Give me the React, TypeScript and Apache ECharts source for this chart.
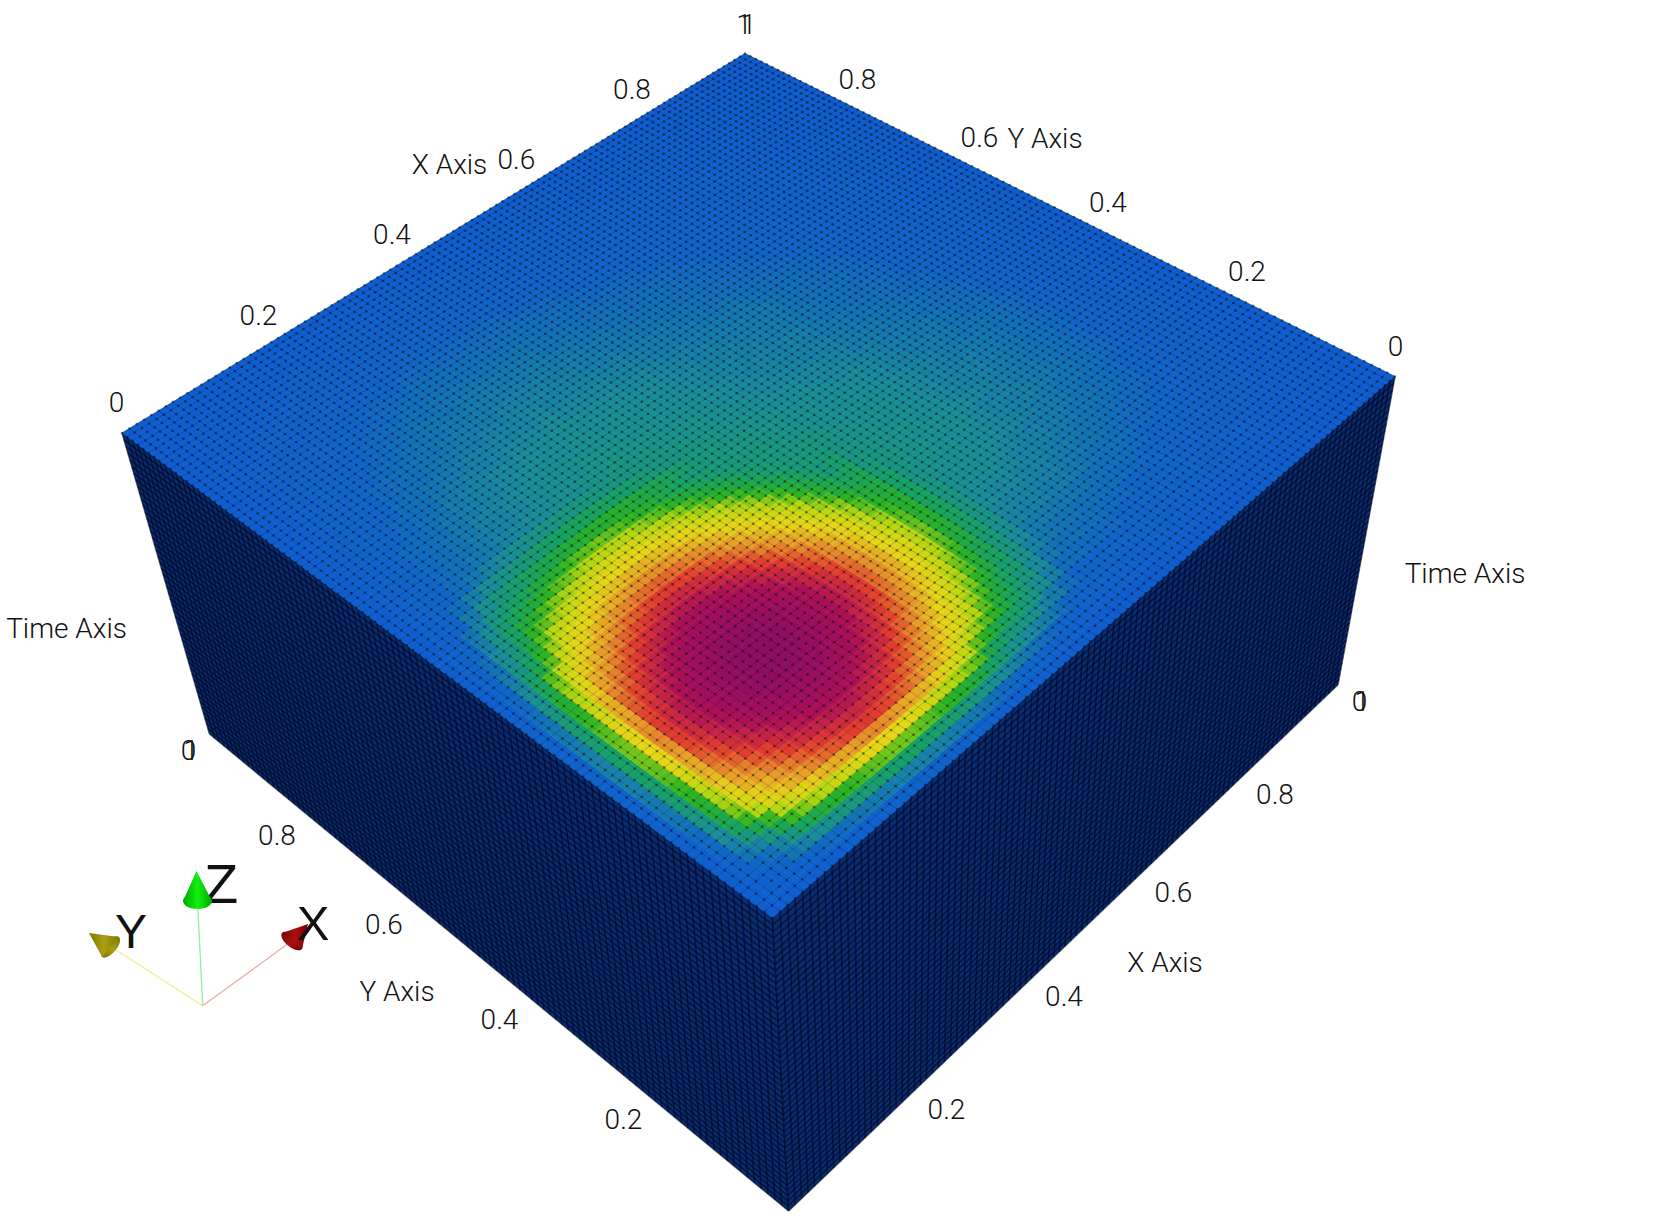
import React, { useEffect, useRef } from "react";
import * as echarts from "echarts";

// ---------- data ----------
const tickLabels = ["0", "0.2", "0.4", "0.6", "0.8", "1"];
const axisTitles = ["X Axis", "Y Axis", "Time Axis"];
const triadLabels = ["X", "Y", "Z"];
const colorStops = ["#0f5dd0", "#1066c8", "#1a8c9c", "#17a266", "#2cb424", "#b4d812", "#e6d618", "#e89a2a", "#e23c30", "#ad1058", "#8c0c62"];

// Colour field near the hot spot: X and Y from 0 to 0.48, in steps of 0.015.
const hotSpotValues = [
[0,1,1,2,2,3,3,4,4,4,5,5,5,6,6,6,6,6,5,5,5,4,4,4,3,3,3,3,2,2,2,1],
[1,2,3,5,7,9,11,11,13,14,15,15,16,17,17,17,17,17,16,15,15,14,13,11,11,10,9,8,7,6,5,4],
[1,3,6,10,14,17,20,22,24,25,27,28,28,29,29,30,29,29,28,28,27,25,24,22,20,18,16,14,13,11,10,8],
[2,5,10,13,18,25,31,34,37,38,40,41,43,44,45,45,45,44,43,41,40,38,37,34,31,28,24,22,20,18,16,14],
[2,7,14,18,25,33,41,46,49,50,53,55,57,59,60,60,60,59,57,55,53,50,49,46,43,34,30,27,25,24,22,18],
[3,10,17,25,33,41,50,55,58,62,65,67,68,70,71,72,71,70,68,67,65,62,58,56,52,44,40,35,31,30,27,25],
[3,11,20,31,41,50,57,62,66,69,72,75,77,79,80,81,80,79,77,75,72,69,66,62,57,53,48,43,40,35,31,27],
[4,11,22,34,46,56,62,66,70,73,76,79,81,83,84,85,84,83,81,79,76,73,70,66,62,59,55,50,44,38,34,30],
[4,13,24,37,49,58,66,70,73,77,80,83,85,86,88,88,88,86,85,83,80,77,73,70,66,61,58,54,48,42,36,32],
[4,14,25,38,50,62,69,73,77,80,84,86,88,90,91,92,91,90,88,86,84,80,77,73,69,65,60,56,52,46,40,35],
[5,15,27,40,53,65,72,76,80,84,86,89,91,93,94,94,94,93,91,89,86,84,80,76,72,68,63,59,55,49,43,37],
[5,15,28,41,55,67,75,79,83,86,89,92,94,95,96,96,96,95,94,92,89,86,83,79,75,71,66,61,57,51,45,39],
[5,16,28,43,57,68,77,81,85,88,91,94,95,97,97,98,97,97,95,94,91,88,85,81,77,72,68,63,58,54,48,41],
[6,17,29,44,59,70,79,83,86,90,93,95,97,98,99,99,99,98,97,95,93,90,86,83,79,74,70,64,60,55,50,43],
[6,17,29,45,60,71,80,84,88,91,94,96,97,99,100,100,100,99,97,96,94,91,88,84,80,75,71,66,60,56,51,44],
[6,17,30,45,60,72,81,85,88,92,94,96,98,99,100,100,100,99,98,96,94,92,88,85,81,76,71,66,61,57,51,45],
[6,17,29,45,60,71,80,84,88,91,94,96,97,99,100,100,100,99,97,96,94,91,88,84,80,75,71,66,60,56,51,44],
[6,17,29,44,59,70,79,83,86,90,93,95,97,98,99,99,99,98,97,95,93,90,86,83,79,74,70,64,60,55,50,43],
[5,16,28,43,57,68,77,81,85,88,91,94,95,97,97,98,97,97,95,94,91,88,85,81,77,72,68,63,58,54,48,41],
[5,15,28,41,55,67,75,79,83,86,89,92,94,95,96,96,96,95,94,92,89,86,83,79,75,71,66,61,57,51,45,39],
[5,15,27,40,53,65,72,76,80,84,86,89,91,93,94,94,94,93,91,89,86,84,80,76,72,68,63,59,55,49,43,37],
[4,14,25,38,50,62,69,73,77,80,84,86,88,90,91,92,91,90,88,86,84,80,77,73,69,65,60,56,52,46,40,35],
[4,13,24,37,49,58,66,70,73,77,80,83,85,86,88,88,88,86,85,83,80,77,73,70,66,61,58,54,48,42,36,32],
[4,11,22,34,46,56,62,66,70,73,76,79,81,83,84,85,84,83,81,79,76,73,70,66,62,59,55,50,44,38,34,30],
[3,11,20,31,43,52,57,62,66,69,72,75,77,79,80,81,80,79,77,75,72,69,66,62,59,55,51,46,40,35,31,27],
[3,10,18,28,34,44,53,59,61,65,68,71,72,74,75,76,75,74,72,71,68,65,61,59,55,51,47,41,36,32,28,26],
[3,9,16,24,30,40,48,55,58,60,63,66,68,70,71,71,71,70,68,66,63,60,58,55,51,47,41,36,33,29,26,26],
[3,8,14,22,27,35,43,50,54,56,59,61,63,64,66,66,66,64,63,61,59,56,54,50,46,41,36,33,29,27,26,25],
[2,7,13,20,25,31,40,44,48,52,55,57,58,60,60,61,60,60,58,57,55,52,48,44,40,36,33,29,27,26,25,25],
[2,6,11,18,24,30,35,38,42,46,49,51,54,55,56,57,56,55,54,51,49,46,42,38,35,32,29,27,26,26,25,24],
[2,5,10,16,22,27,31,34,36,40,43,45,48,50,51,51,51,50,48,45,43,40,36,34,31,28,26,26,25,25,24,24],
[1,4,8,14,18,24,27,30,32,35,37,39,41,43,44,45,44,43,41,39,37,35,32,30,27,26,26,25,25,24,24,23],
];

// Colour field beside the hot spot: Y from 0 to 0.48 in steps of 0.02, X from 0.48 to 1 in steps of 0.02.
const beyondHotSpotX = [
[1,1,1,1,1,1,1,1,1,1,1,1,1,1,1,1,1,1,0,0,0,0,0,0,0,0],
[5,5,5,5,5,4,4,4,4,4,4,3,3,3,3,3,2,2,2,2,1,1,1,1,0,0],
[10,8,8,8,7,7,7,7,6,6,6,5,5,5,5,4,4,4,3,3,2,2,2,1,1,0],
[16,12,10,10,10,9,9,9,8,8,7,7,7,6,6,6,5,5,4,4,3,3,2,2,1,1],
[22,17,12,12,11,11,11,10,10,9,9,9,8,8,7,7,6,6,5,4,4,3,2,2,1,1],
[26,20,15,13,13,12,12,11,11,10,10,9,9,8,8,7,7,6,5,5,4,3,3,2,1,1],
[28,23,18,15,14,14,13,13,12,12,11,11,10,9,9,8,8,7,6,5,5,4,3,2,2,1],
[31,25,20,16,16,15,15,14,13,13,12,12,11,10,10,9,9,8,7,6,5,4,3,3,2,1],
[33,27,22,18,17,17,16,16,15,14,13,13,12,11,11,10,9,8,7,7,6,5,4,3,2,1],
[35,29,23,19,18,18,17,17,16,15,14,14,13,12,11,11,10,9,8,7,6,5,4,3,2,1],
[37,30,24,20,19,19,18,18,17,16,15,14,14,13,12,11,11,9,8,7,6,5,4,3,2,1],
[38,31,25,21,20,20,19,18,17,17,16,15,14,14,13,12,11,10,9,8,7,6,4,3,2,1],
[38,31,25,22,21,21,20,19,18,17,16,16,15,14,13,12,11,10,9,8,7,6,5,3,2,1],
[38,31,25,22,22,21,21,20,19,18,17,16,15,14,14,13,12,11,9,8,7,6,5,4,2,1],
[37,30,24,23,22,22,21,20,19,18,17,17,16,15,14,13,12,11,10,8,7,6,5,4,2,1],
[35,29,24,23,23,22,21,21,19,18,17,17,16,15,14,13,12,11,10,9,7,6,5,4,2,1],
[33,27,24,24,23,22,22,21,20,19,18,17,16,15,14,13,12,11,10,9,7,6,5,4,2,1],
[31,25,24,23,23,22,21,21,19,18,17,17,16,15,14,13,12,11,10,9,7,6,5,4,2,1],
[28,24,24,23,22,22,21,20,19,18,17,17,16,15,14,13,12,11,10,9,7,6,5,4,2,1],
[26,24,23,23,22,22,21,20,19,18,17,16,16,15,14,13,12,11,10,8,7,6,5,4,2,1],
[25,24,23,22,22,21,21,20,19,18,17,16,15,14,14,13,12,11,9,8,7,6,5,4,2,1],
[24,23,22,22,21,21,20,19,18,17,16,16,15,14,13,12,12,10,9,8,7,6,5,3,2,1],
[23,22,22,21,21,20,20,19,18,17,16,15,15,14,13,12,11,10,9,8,7,6,4,3,2,1],
[23,22,21,21,20,19,19,18,17,16,15,15,14,13,12,12,11,10,9,8,6,5,4,3,2,1],
];

// Colour field behind the hot spot: Y from 0.48 to 1, X from 0 to 1, in steps of 0.02.
const beyondHotSpotY = [
[1,5,10,16,22,26,28,31,33,35,37,38,38,38,37,35,33,31,28,26,25,24,23,23,22,21,20,20,19,19,18,17,16,16,15,14,14,13,12,11,10,9,8,7,6,5,4,3,2,1],
[1,5,8,12,17,20,23,25,27,29,30,31,31,31,30,29,27,25,24,24,24,23,22,22,21,20,19,19,18,18,17,17,16,15,14,14,13,12,11,11,10,9,8,7,6,5,4,3,2,1],
[1,5,8,10,12,15,18,20,22,23,24,25,25,25,24,24,24,24,24,23,23,23,22,21,20,19,19,18,18,17,17,16,15,15,14,13,13,12,11,10,10,9,8,7,6,5,4,3,2,1],
[1,5,8,10,12,13,15,16,18,19,20,21,22,22,23,23,24,23,23,23,22,22,21,21,20,19,18,18,17,17,17,16,15,14,13,13,12,12,11,10,9,8,8,7,6,5,4,3,2,1],
[1,5,7,10,11,13,14,16,17,18,19,20,21,22,22,23,23,23,22,22,22,21,21,20,19,18,18,17,17,16,16,15,14,14,13,13,12,11,11,10,9,8,7,6,5,5,4,3,2,1],
[1,4,7,9,11,12,14,15,17,18,19,20,21,21,22,22,22,22,22,22,21,21,20,19,19,18,17,17,16,16,16,15,14,13,13,12,12,11,10,10,9,8,7,6,5,4,4,3,2,1],
[1,4,7,9,11,12,13,15,16,17,18,19,20,21,21,21,22,21,21,21,21,20,20,19,18,17,17,16,16,16,15,15,14,13,12,12,11,11,10,9,9,8,7,6,5,4,3,3,2,1],
[1,4,7,9,10,11,13,14,16,17,18,19,19,20,20,21,21,21,20,20,20,19,19,18,17,17,16,16,15,15,15,14,13,12,12,11,11,10,10,9,8,7,7,6,5,4,3,2,2,1],
[1,4,6,8,10,11,12,13,15,16,17,17,18,19,19,19,20,19,19,19,19,18,18,17,16,16,15,15,14,14,14,13,12,12,11,11,10,10,9,8,8,7,6,5,5,4,3,2,2,1],
[1,4,6,8,9,10,12,13,14,15,16,17,17,18,18,18,19,18,18,18,18,17,17,16,16,15,15,14,14,13,13,12,12,11,11,10,10,9,9,8,7,7,6,5,4,4,3,2,1,1],
[1,4,6,7,9,10,11,12,13,14,15,16,16,17,17,18,18,18,17,17,17,16,16,15,15,14,14,13,13,13,12,12,11,11,10,10,9,9,8,8,7,6,6,5,4,4,3,2,1,1],
[1,3,5,7,9,9,11,12,13,14,14,15,16,16,16,17,17,17,17,16,16,16,15,15,14,14,13,13,13,12,12,11,11,10,10,9,9,8,8,7,7,6,5,5,4,3,3,2,1,1],
[1,3,5,7,8,9,10,11,12,13,14,14,15,15,16,16,16,16,16,16,15,15,14,14,13,13,12,12,12,12,11,11,10,10,9,9,8,8,7,7,6,6,5,4,4,3,3,2,1,1],
[1,3,5,6,8,8,9,10,11,12,13,14,14,14,15,15,15,15,15,15,14,14,14,13,13,12,12,12,11,11,11,10,10,9,9,8,8,7,7,7,6,5,5,4,4,3,2,2,1,1],
[1,3,5,6,7,8,9,10,11,11,12,13,13,14,14,14,14,14,14,14,14,13,13,12,12,11,11,11,11,10,10,10,9,9,8,8,7,7,7,6,6,5,5,4,3,3,2,2,1,1],
[1,3,4,6,7,7,8,9,10,11,11,12,12,13,13,13,13,13,13,13,13,12,12,12,11,11,10,10,10,10,9,9,8,8,8,7,7,7,6,6,5,5,4,4,3,3,2,2,1,1],
[1,2,4,5,6,7,8,9,9,10,11,11,11,12,12,12,12,12,12,12,12,12,11,11,10,10,10,9,9,9,9,8,8,7,7,7,6,6,6,5,5,4,4,3,3,2,2,1,1,0],
[1,2,4,5,6,6,7,8,8,9,10,10,10,11,11,11,11,11,11,11,11,10,10,10,9,9,9,9,8,8,8,8,7,7,6,6,6,5,5,5,4,4,4,3,3,2,2,1,1,0],
[0,2,3,4,5,5,6,7,7,8,8,9,9,9,10,10,10,10,10,10,9,9,9,9,8,8,8,8,7,7,7,7,6,6,6,5,5,5,5,4,4,4,3,3,2,2,2,1,1,0],
[0,2,3,4,4,5,5,6,7,7,7,8,8,8,8,9,9,9,9,8,8,8,8,8,7,7,7,7,6,6,6,6,5,5,5,5,5,4,4,4,3,3,3,2,2,2,1,1,1,0],
[0,1,2,3,4,4,5,5,6,6,6,7,7,7,7,7,7,7,7,7,7,7,7,6,6,6,6,6,5,5,5,5,5,4,4,4,4,4,3,3,3,3,2,2,2,1,1,1,1,0],
[0,1,2,3,3,3,4,4,5,5,5,6,6,6,6,6,6,6,6,6,6,6,6,5,5,5,5,5,4,4,4,4,4,4,4,3,3,3,3,3,2,2,2,2,1,1,1,1,0,0],
[0,1,2,2,2,3,3,3,4,4,4,4,5,5,5,5,5,5,5,5,5,5,4,4,4,4,4,4,4,4,3,3,3,3,3,3,3,2,2,2,2,2,2,1,1,1,1,1,0,0],
[0,1,1,2,2,2,2,3,3,3,3,3,3,4,4,4,4,4,4,4,4,3,3,3,3,3,3,3,3,3,3,2,2,2,2,2,2,2,2,2,1,1,1,1,1,1,1,0,0,0],
[0,1,1,1,1,1,2,2,2,2,2,2,2,2,2,2,3,2,2,2,2,2,2,2,2,2,2,2,2,2,2,2,2,2,1,1,1,1,1,1,1,1,1,1,1,0,0,0,0,0],
[0,0,0,1,1,1,1,1,1,1,1,1,1,1,1,1,1,1,1,1,1,1,1,1,1,1,1,1,1,1,1,1,1,1,1,1,1,1,1,0,0,0,0,0,0,0,0,0,0,0],
];

// ---------- layout ----------
const W = 1672;
const H = 1216;
type P = [number, number];
const FRONT: P = [772.5, 918];
const RIGHT: P = [1395, 376.5];
const TOP: P = [745, 53.5];
const LEFT: P = [122, 433];
const BOTTOM: P = [788.6, 1211];
const LEFT_LOW: P = [209.5, 734];
const RIGHT_LOW: P = [1338, 684.6];

const MESH = 100;
const LAYERS = 50;
const FINE_STEP = 0.015;
const COARSE_STEP = 0.02;
const SEAM = 0.48;

function homography(p0: P, p1: P, p2: P, p3: P) {
  const dx1 = p1[0] - p2[0], dx2 = p3[0] - p2[0], sx = p0[0] - p1[0] + p2[0] - p3[0];
  const dy1 = p1[1] - p2[1], dy2 = p3[1] - p2[1], sy = p0[1] - p1[1] + p2[1] - p3[1];
  const den = dx1 * dy2 - dx2 * dy1;
  const g = (sx * dy2 - dx2 * sy) / den;
  const h = (dx1 * sy - sx * dy1) / den;
  const a = p1[0] - p0[0] + g * p1[0], b = p3[0] - p0[0] + h * p3[0], c = p0[0];
  const d = p1[1] - p0[1] + g * p1[1], e = p3[1] - p0[1] + h * p3[1], f = p0[1];
  return (u: number, v: number): P => {
    const w = g * u + h * v + 1;
    return [(a * u + b * v + c) / w, (d * u + e * v + f) / w];
  };
}

const faces = [
  { map: homography(LEFT, FRONT, BOTTOM, LEFT_LOW), nu: MESH, nv: LAYERS, fill: "#0a2c70", line: "rgba(0,6,30,0.62)", width: 1.5 },
  { map: homography(FRONT, RIGHT, RIGHT_LOW, BOTTOM), nu: MESH, nv: LAYERS, fill: "#0a2c70", line: "rgba(0,6,30,0.62)", width: 1.5 },
  { map: homography(FRONT, RIGHT, TOP, LEFT), nu: MESH, nv: MESH, fill: "none", line: "rgba(0,0,0,0.17)", width: 1 },
];

const labelSpots: [string, number, number][] = [
  [tickLabels[0], 116.5, 402], [tickLabels[1], 258.5, 315], [tickLabels[2], 392, 234], [tickLabels[3], 516.3, 159], [tickLabels[4], 632, 89.5], [tickLabels[5], 744, 24],
  [tickLabels[0], 1395.5, 346], [tickLabels[1], 1247, 271.5], [tickLabels[2], 1108, 202], [tickLabels[3], 979.5, 137.5], [tickLabels[4], 857.5, 79], [tickLabels[5], 748.5, 24],
  [tickLabels[0], 188.5, 750.5], [tickLabels[5], 191, 750.5], [tickLabels[4], 277, 835], [tickLabels[3], 384, 924], [tickLabels[2], 499.5, 1019], [tickLabels[1], 623.5, 1119.5],
  [tickLabels[0], 1359.5, 701.5], [tickLabels[5], 1362, 701.5], [tickLabels[4], 1275, 794.5], [tickLabels[3], 1173.5, 892], [tickLabels[2], 1064, 996.5], [tickLabels[1], 946.5, 1109.5],
  [axisTitles[0], 449.5, 164.5], [axisTitles[1], 1045, 138.5], [axisTitles[2], 1465, 573], [axisTitles[2], 66.5, 628.5], [axisTitles[1], 397, 991], [axisTitles[0], 1165, 962.5],
];

function cone(apex: P, c: P, rx: number, ry: number, rot: number, colors: string[]) {
  const ex = Math.cos(rot) * rx, ey = -Math.sin(rot) * rx;
  const gradient = { type: "linear", x: 0, y: 0, x2: 1, y2: 0, colorStops: [{ offset: 0, color: colors[0] }, { offset: 0.5, color: colors[1] }, { offset: 1, color: colors[0] }] };
  return [
    { type: "ellipse", x: c[0], y: c[1], rotation: rot, shape: { cx: 0, cy: 0, rx, ry }, style: { fill: gradient }, z: 10 },
    { type: "polygon", shape: { points: [apex, [c[0] + ex, c[1] + ey], [c[0] - ex, c[1] - ey]] }, style: { fill: gradient }, z: 10 },
  ];
}

function text(t: string, x: number, y: number, font: string, z = 12) {
  return { type: "text", z, style: { text: t, x, y, fill: "#111", font, align: "center", verticalAlign: "middle", textAlign: "center", textVerticalAlign: "middle" } };
}

const ORIGIN: P = [202.7, 1005.7];
const triad = [
  { type: "line", z: 9, shape: { x1: ORIGIN[0], y1: ORIGIN[1], x2: 197.7, y2: 905 }, style: { stroke: "#98f098", lineWidth: 1.3 } },
  { type: "line", z: 9, shape: { x1: ORIGIN[0], y1: ORIGIN[1], x2: 113, y2: 948 }, style: { stroke: "#f0f090", lineWidth: 1.3 } },
  { type: "line", z: 9, shape: { x1: ORIGIN[0], y1: ORIGIN[1], x2: 289, y2: 943 }, style: { stroke: "#f0a8a8", lineWidth: 1.3 } },
  text(triadLabels[2], 221, 883, "56px 'Liberation Sans'", 8),
  ...cone([196.5, 871], [197.5, 901], 14.5, 8, 0, ["#00a800", "#10f010"]),
  ...cone([89, 933], [110.5, 947], 13, 6, 0.87, ["#807800", "#a8a010"]),
  ...cone([308, 924], [292, 941], 12.8, 6, -0.68, ["#7a0000", "#a81010"]),
  text(triadLabels[1], 131, 931, "48px 'Liberation Sans'"),
  text(triadLabels[0], 313, 923, "49px 'Liberation Sans'"),
];

// each item: [x start, y start, value, cell size]
const cellData: number[][] = [];
hotSpotValues.forEach((row, j) => row.forEach((v, i) => cellData.push([i * FINE_STEP, j * FINE_STEP, v, FINE_STEP])));
beyondHotSpotX.forEach((row, j) => row.forEach((v, i) => cellData.push([SEAM + i * COARSE_STEP, j * COARSE_STEP, v, COARSE_STEP])));
beyondHotSpotY.forEach((row, j) => row.forEach((v, i) => cellData.push([i * COARSE_STEP, SEAM + j * COARSE_STEP, v, COARSE_STEP])));

const meshData: number[][] = [];
faces.forEach((f, idx) => {
  meshData.push([idx, -1, 0]);
  for (let k = 0; k <= f.nu; k++) meshData.push([idx, 0, k / f.nu]);
  for (let k = 0; k <= f.nv; k++) meshData.push([idx, 1, k / f.nv]);
});

const nodeData: number[][] = [];
for (let a = 0; a <= MESH; a++) for (let b = 0; b <= MESH; b++) nodeData.push([a / MESH, b / MESH]);

export default function App() {
  const ref = useRef<HTMLDivElement>(null);
  useEffect(() => {
    if (!ref.current) return;
    const chart = echarts.init(ref.current, undefined, { renderer: "svg" });
    const topMap = faces[2].map;
    chart.setOption({
      animation: false,
      backgroundColor: "#fff",
      grid: { left: 0, right: 0, top: 0, bottom: 0 },
      xAxis: { type: "value", min: 0, max: W, show: false },
      yAxis: { type: "value", min: 0, max: H, inverse: true, show: false },
      visualMap: { show: false, type: "continuous", min: 0, max: 100, dimension: 2, seriesIndex: 1, inRange: { color: colorStops } },
      series: [
        {
          type: "custom", silent: true, clip: false, z: 1, progressive: 0, data: meshData.filter((d) => d[0] < 2),
          renderItem: (_: unknown, api: any) => drawMesh(api),
        },
        {
          type: "custom", silent: true, clip: false, z: 2, progressive: 0, data: cellData, dimensions: ["x", "y", "value", "size"],
          renderItem: (_: unknown, api: any) => {
            const u = api.value(0), v = api.value(1), s = api.value(3);
            const corners: P[] = [topMap(u, v), topMap(u + s, v), topMap(u + s, v + s), topMap(u, v + s)];
            const color = api.visual("color");
            return { type: "polygon", shape: { points: corners.map((p) => api.coord(p)) }, style: { fill: color, stroke: color, lineWidth: 0.7 } };
          },
        },
        {
          type: "custom", silent: true, clip: false, z: 3, progressive: 0, data: meshData.filter((d) => d[0] === 2),
          renderItem: (_: unknown, api: any) => drawMesh(api),
        },
        {
          type: "custom", silent: true, clip: false, z: 4, progressive: 0, data: nodeData,
          renderItem: (_: unknown, api: any) => {
            const c = api.coord(topMap(api.value(0), api.value(1)));
            return { type: "circle", shape: { cx: c[0], cy: c[1], r: 1.35 }, style: { fill: "rgba(0,0,0,0.42)" } };
          },
        },
      ],
      graphic: { elements: [...labelSpots.map(([t, x, y]) => text(t, x, y, "300 28px Roboto")), ...triad] },
    });
    return () => chart.dispose();
  }, []);
  return <div ref={ref} style={{ position: "absolute", left: 0, top: 0, width: W, height: H }} />;
}

function drawMesh(api: any) {
  const face = faces[api.value(0)];
  const dir = api.value(1), t = api.value(2);
  if (dir < 0) {
    if (face.fill === "none") return { type: "group", children: [] };
    const pts = [face.map(0, 0), face.map(1, 0), face.map(1, 1), face.map(0, 1)].map((p) => api.coord(p));
    return { type: "polygon", shape: { points: pts }, style: { fill: face.fill } };
  }
  const a = dir === 0 ? face.map(t, 0) : face.map(0, t);
  const b = dir === 0 ? face.map(t, 1) : face.map(1, t);
  return { type: "line", shape: { x1: api.coord(a)[0], y1: api.coord(a)[1], x2: api.coord(b)[0], y2: api.coord(b)[1] }, style: { stroke: face.line, lineWidth: face.width } };
}
